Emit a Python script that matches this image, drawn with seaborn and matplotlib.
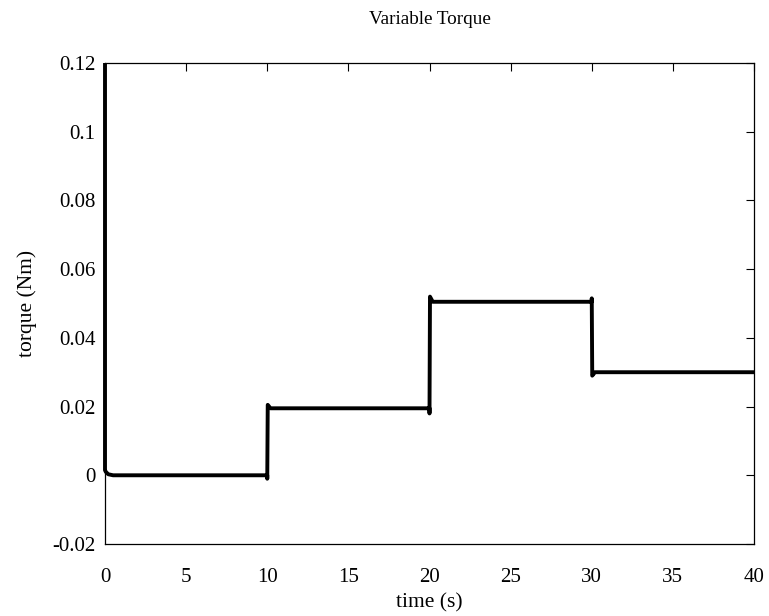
import matplotlib
matplotlib.use("Agg")
import matplotlib.pyplot as plt
import seaborn as sns
import pandas as pd

# Data
time_s = [0.0, 0.0, 0.05, 0.2, 0.5, 10.0, 10.0, 10.03, 10.2, 20.0, 20.0, 20.03, 20.2, 30.0, 30.0, 30.03, 30.2, 40.0]
torque_nm = [0.12, 0.0015, 0.0010, 0.0003, 0.0, 0.0, -0.0010, 0.0205, 0.0195, 0.0195, 0.0180, 0.0520, 0.0505, 0.0505, 0.0515, 0.0290, 0.0300, 0.0300]
x_ticks = [0, 5, 10, 15, 20, 25, 30, 35, 40]
y_ticks = [-0.02, 0, 0.02, 0.04, 0.06, 0.08, 0.1, 0.12]
y_tick_labels = ["-0.02", "0", "0.02", "0.04", "0.06", "0.08", "0.1", "0.12"]

sns.set_style("white")
plt.rcParams['font.family'] = ['Liberation Serif', 'DejaVu Serif']
plt.rcParams['text.color'] = 'black'
plt.rcParams['axes.labelcolor'] = 'black'

df = pd.DataFrame({"time": time_s, "torque": torque_nm})

fig = plt.figure(figsize=(7.69, 6.16), dpi=100)
ax = fig.add_axes([105/769, 1 - 544/616, (754-105)/769, (544-63)/616])

sns.lineplot(data=df, x="time", y="torque", sort=False, estimator=None,
             color="black", linewidth=2.8, ax=ax)
for ln in ax.lines:
    ln.set_clip_on(False)
    ln.set_zorder(5)
    ln.set_solid_capstyle("butt")

ax.set_xlim(0, 40)
ax.set_ylim(-0.02, 0.12)
ax.set_xticks(x_ticks)
ax.set_xticklabels([str(v) for v in x_ticks])
ax.set_yticks(y_ticks)
ax.set_yticklabels(y_tick_labels)
ax.tick_params(direction="in", length=6, width=0.8, top=True, right=True,
               labelsize=15, colors="black")
ax.tick_params(axis="x", pad=17)
ax.tick_params(axis="y", pad=7)
for s in ax.spines.values():
    s.set_color("black")
    s.set_linewidth(0.9)

ax.set_xlabel("time (s)", fontsize=15.5, labelpad=5, color="black")
ax.set_ylabel("torque (Nm)", fontsize=15.5, labelpad=11, color="black")
ax.set_title("Variable Torque", fontsize=13.8, pad=28, color="black")

fig.savefig("out.png", dpi=100)
